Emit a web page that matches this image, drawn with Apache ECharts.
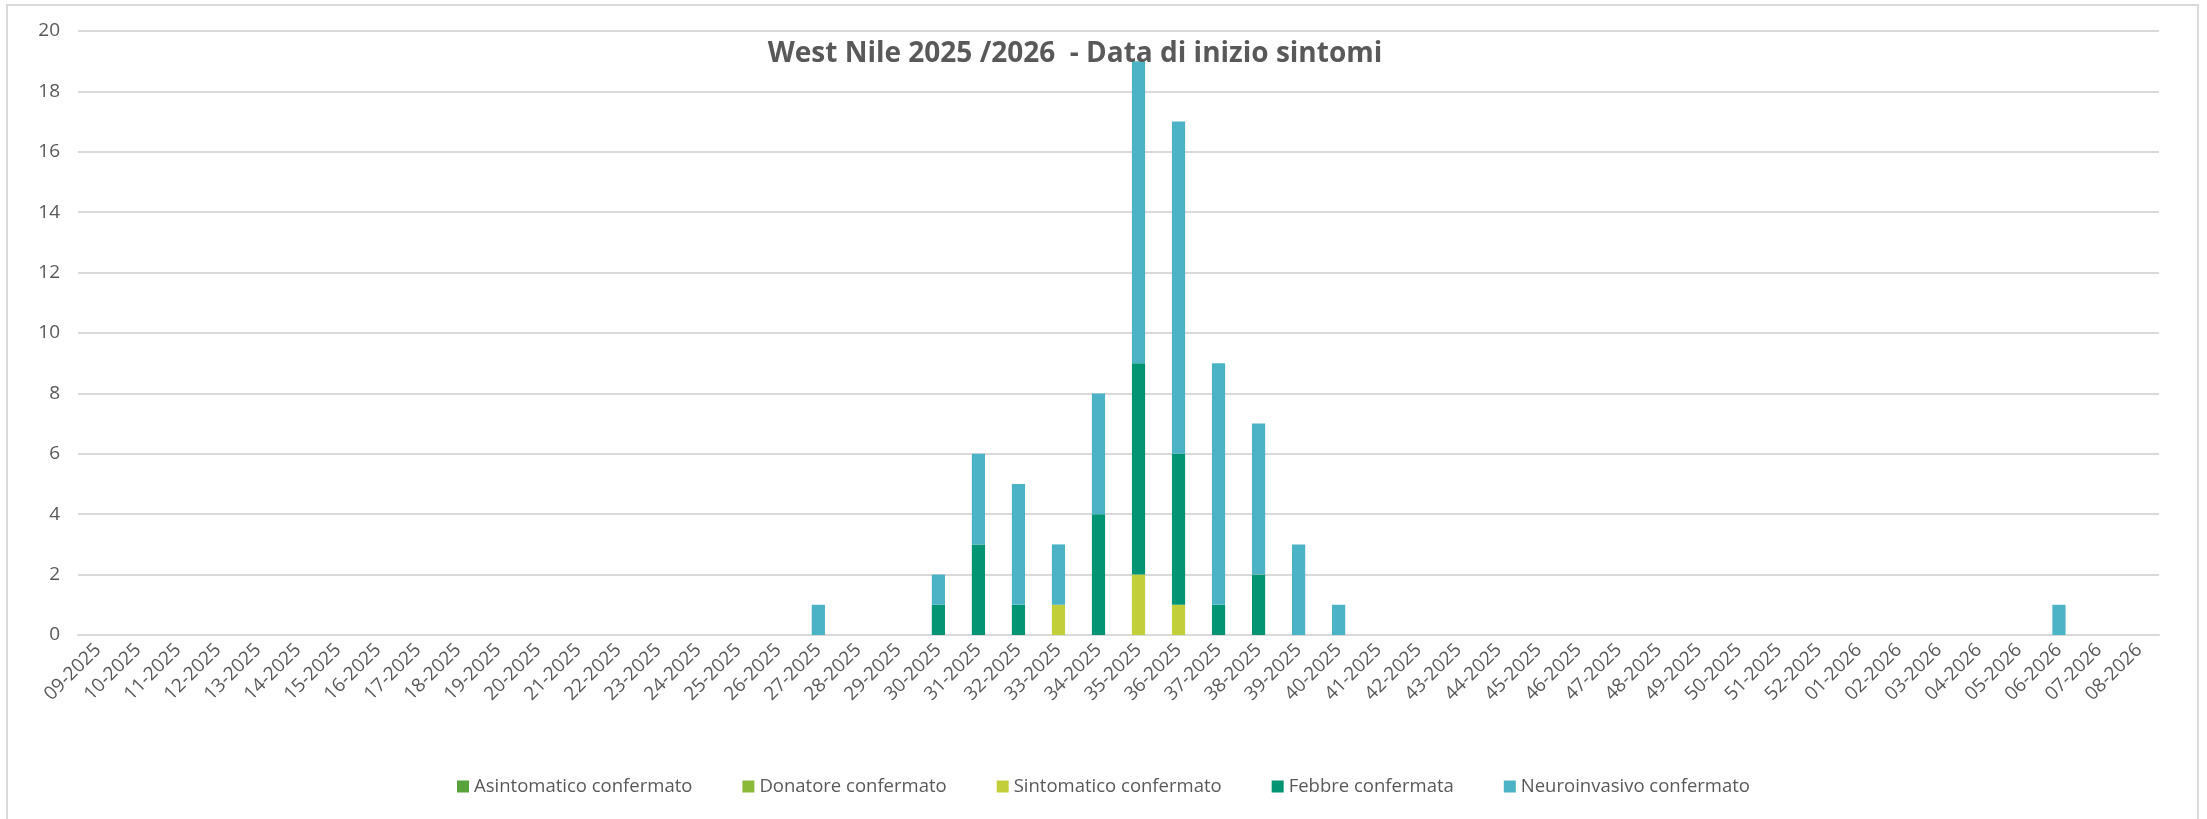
<!DOCTYPE html>
<html>
<head>
<meta charset="utf-8">
<script src="https://cdn.jsdelivr.net/npm/echarts@6/dist/echarts.min.js"></script>
<style>
    html, body { margin: 0; padding: 0; background: #fff; }
    #chart { width: 2207px; height: 819px; }
</style>
</head>
<body>
<div id="chart"></div>
<script>
    // settimane (asse x)
    const weeks = [
        '09-2025', '10-2025', '11-2025', '12-2025', '13-2025', '14-2025', '15-2025', '16-2025', '17-2025', '18-2025',
        '19-2025', '20-2025', '21-2025', '22-2025', '23-2025', '24-2025', '25-2025', '26-2025', '27-2025', '28-2025',
        '29-2025', '30-2025', '31-2025', '32-2025', '33-2025', '34-2025', '35-2025', '36-2025', '37-2025', '38-2025',
        '39-2025', '40-2025', '41-2025', '42-2025', '43-2025', '44-2025', '45-2025', '46-2025', '47-2025', '48-2025',
        '49-2025', '50-2025', '51-2025', '52-2025', '01-2026', '02-2026', '03-2026', '04-2026', '05-2026', '06-2026',
        '07-2026', '08-2026'
    ];

    const asintomatico = [
        0, 0, 0, 0, 0, 0, 0, 0, 0, 0,
        0, 0, 0, 0, 0, 0, 0, 0, 0, 0,
        0, 0, 0, 0, 0, 0, 0, 0, 0, 0,
        0, 0, 0, 0, 0, 0, 0, 0, 0, 0,
        0, 0, 0, 0, 0, 0, 0, 0, 0, 0,
        0, 0
    ];
    const donatore = [
        0, 0, 0, 0, 0, 0, 0, 0, 0, 0,
        0, 0, 0, 0, 0, 0, 0, 0, 0, 0,
        0, 0, 0, 0, 0, 0, 0, 0, 0, 0,
        0, 0, 0, 0, 0, 0, 0, 0, 0, 0,
        0, 0, 0, 0, 0, 0, 0, 0, 0, 0,
        0, 0
    ];
    const sintomatico = [
        0, 0, 0, 0, 0, 0, 0, 0, 0, 0,
        0, 0, 0, 0, 0, 0, 0, 0, 0, 0,
        0, 0, 0, 0, 1, 0, 2, 1, 0, 0,
        0, 0, 0, 0, 0, 0, 0, 0, 0, 0,
        0, 0, 0, 0, 0, 0, 0, 0, 0, 0,
        0, 0
    ];
    const febbre = [
        0, 0, 0, 0, 0, 0, 0, 0, 0, 0,
        0, 0, 0, 0, 0, 0, 0, 0, 0, 0,
        0, 1, 3, 1, 0, 4, 7, 5, 1, 2,
        0, 0, 0, 0, 0, 0, 0, 0, 0, 0,
        0, 0, 0, 0, 0, 0, 0, 0, 0, 0,
        0, 0
    ];
    const neuroinvasivo = [
        0, 0, 0, 0, 0, 0, 0, 0, 0, 0,
        0, 0, 0, 0, 0, 0, 0, 0, 1, 0,
        0, 1, 3, 4, 2, 4, 10, 11, 8, 5,
        3, 1, 0, 0, 0, 0, 0, 0, 0, 0,
        0, 0, 0, 0, 0, 0, 0, 0, 0, 1,
        0, 0
    ];

    const seriesDef = [
        { name: 'Asintomatico confermato', data: asintomatico, color: '#58a23c' },
        { name: 'Donatore confermato', data: donatore, color: '#8cba38' },
        { name: 'Sintomatico confermato', data: sintomatico, color: '#c3cf3a' },
        { name: 'Febbre confermata', data: febbre, color: '#039473' },
        { name: 'Neuroinvasivo confermato', data: neuroinvasivo, color: '#4bb3c5' }
    ];

    const textColor = '#595959';
    const font = 'Open Sans';

    const chart = echarts.init(document.getElementById('chart'));

    let option = {
        animation: false,
        backgroundColor: '#fff',
        textStyle: { fontFamily: font },
        graphic: [{
            type: 'rect',
            shape: { x: 7, y: 5, width: 2191, height: 830 },
            style: { fill: 'none', stroke: '#d9d9d9', lineWidth: 2 },
            silent: true
        }],
        title: {
            text: 'West Nile 2025 /2026  - Data di inizio sintomi',
            left: 1075,
            top: 40,
            padding: 0,
            textAlign: 'center',
            textStyle: {
                fontFamily: font,
                fontSize: 28,
                fontWeight: 'bold',
                color: textColor
            }
        },
        legend: {
            bottom: 18,
            left: 'center',
            itemWidth: 12,
            itemHeight: 12,
            itemGap: 50,
            icon: 'rect',
            textStyle: { fontFamily: font, fontSize: 18.5, color: textColor },
            data: seriesDef.map(s => s.name)
        },
        grid: {
            left: 78,
            right: 48,
            top: 31,
            bottom: 184,
            containLabel: false
        },
        xAxis: {
            type: 'category',
            data: weeks,
            axisTick: { show: false },
            axisLine: { lineStyle: { color: '#d9d9d9', width: 2 } },
            axisLabel: {
                interval: 0,
                rotate: 45,
                margin: 12,
                fontFamily: font,
                fontSize: 19,
                color: textColor
            }
        },
        yAxis: {
            type: 'value',
            min: 0,
            max: 20,
            interval: 2,
            axisLine: { show: false },
            axisTick: { show: false },
            splitLine: { lineStyle: { color: '#d9d9d9', width: 2 } },
            axisLabel: {
                margin: 18,
                fontFamily: font,
                fontSize: 19,
                color: textColor
            }
        },
        series: []
    };

    seriesDef.forEach(s => {
        option.series.push({
            name: s.name,
            type: 'bar',
            stack: 'casi',
            barWidth: '33%',
            data: s.data,
            itemStyle: { color: s.color }
        });
    });

    chart.setOption(option);
</script>
</body>
</html>
